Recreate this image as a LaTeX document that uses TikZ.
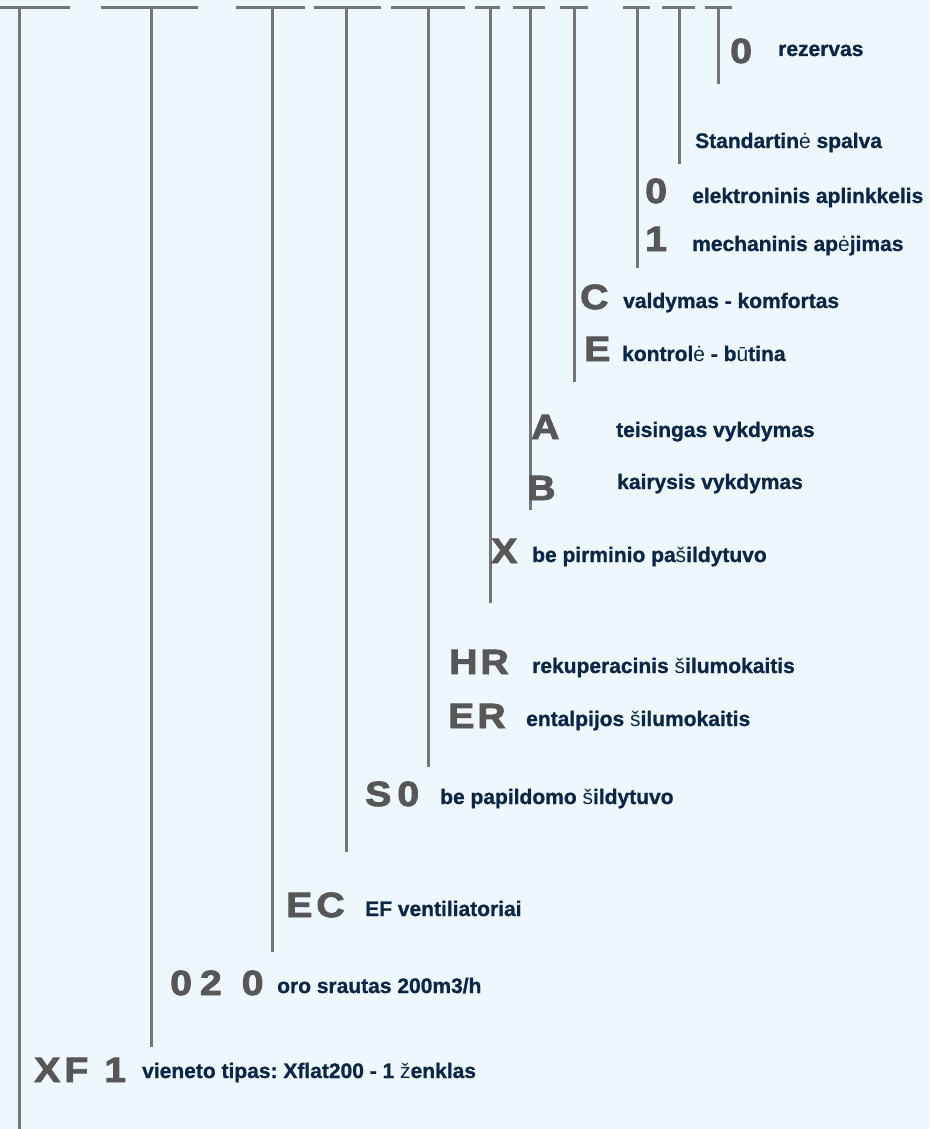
\documentclass[tikz,border=0pt]{standalone}
\usepackage{fontspec}
\setmainfont{Liberation Sans}
\newfontfamily\codefamily{Liberation Sans}[BoldFeatures={FakeBold=2.5,FakeStretch=1.12}]
\newfontfamily\descfamily{Liberation Sans}[BoldFeatures={FakeBold=1}]
\definecolor{bgblue}{HTML}{EEF7FC}
\definecolor{stemgray}{HTML}{767676}
\definecolor{codegray}{HTML}{575757}
\definecolor{descblue}{HTML}{0D2646}
\newcommand{\codefont}{\codefamily\fontsize{35}{40}\selectfont\bfseries}
\newcommand{\descfont}{\descfamily\fontsize{21}{24}\selectfont\bfseries\frenchspacing}
\tikzstyle{codestyle}=[anchor=base west, inner sep=0pt, text=codegray, font=\codefont]
\tikzstyle{descstyle}=[anchor=base west, inner sep=0pt, text=descblue, font=\descfont]
\tikzstyle{stemline}=[draw, line width=3pt, color=stemgray]
\newcommand{\code}[2]{node (c#1) [codestyle] {#2}}
\newcommand{\desc}[2]{node (d#1) [descstyle] {#2}}
\newcommand{\lt}[1]{{\mdseries #1}}
% stem: name, x, bar left, bar right, bottom
\newcommand{\stem}[5]{%
  \coordinate (l#1) at (#3,8);
  \coordinate (r#1) at (#4,8);
  \coordinate (s#1) at (#2,8);
  \coordinate (e#1) at (#2,#5);
  \path [stemline] (l#1) -- (r#1) (s#1) -- (e#1);}

\begin{document}
\begin{tikzpicture}[x=1pt, y=-1pt]
\fill [bgblue] (0,0) rectangle (929,1129);
\useasboundingbox (0,0) rectangle (929,1129);
% Draw stems
\stem{1}{19}{0}{70}{1129}
\stem{2}{151}{101}{198}{1047}
\stem{3}{272}{236}{305}{952}
\stem{4}{346}{314}{381}{852}
\stem{5}{428}{391}{465}{767}
\stem{6}{490}{475}{500}{603}
\stem{7}{530}{513}{545}{510}
\stem{8}{574}{560}{588}{382}
\stem{9}{637}{623}{650}{268}
\stem{10}{679}{662}{695}{164}
\stem{11}{718}{705}{732}{84}

% Draw codes
\path (730,63)   \code{1}{0};
\path (645,203)  \code{2}{0};
\path (645,251)  \code{3}{1};
\path (580,309)  \code{4}{C};
\path (584,361)  \code{5}{E};
\path (531,439)  \code{6}{A};
\path (527,500)  \code{7}{B};
\path (491,563)  \code{8}{X};
\path (449,674)  \code{9}{H\kern3pt R};
\path (448,728)  \code{10}{E\kern3pt R};
\path (365,806)  \code{11}{S\kern6pt 0};
\path (286,917)  \code{12}{E\kern4pt C};
\path (170,995)  \code{13}{0\kern8pt 2\kern20pt 0};
\path (34,1082)  \code{14}{X\kern4pt F\kern16pt 1};

% Draw descriptions
\path (778,56)   \desc{1}{rezervas};
\path (695,148)  \desc{2}{Standartin\lt{ė} spalva};
\path (692,203)  \desc{3}{elektroninis aplinkkelis};
\path (692,251)  \desc{4}{mechaninis ap\lt{ė}jimas};
\path (623,308)  \desc{5}{valdymas - komfortas};
\path (622,361)  \desc{6}{kontrol\lt{ė} - b\lt{ū}tina};
\path (616,437)  \desc{7}{teisingas vykdymas};
\path (617,489)  \desc{8}{kairysis vykdymas};
\path (532,562)  \desc{9}{be pirminio pa\lt{š}ildytuvo};
\path (532,673)  \desc{10}{rekuperacinis \lt{š}ilumokaitis};
\path (526,726)  \desc{11}{entalpijos \lt{š}ilumokaitis};
\path (440,804)  \desc{12}{be papildomo \lt{š}ildytuvo};
\path (365,916)  \desc{13}{EF ventiliatoriai};
\path (277,993)  \desc{14}{oro srautas 200m3/h};
\path (142,1078) \desc{15}{vieneto tipas: Xflat200 - 1 \lt{ž}enklas};
\end{tikzpicture}
\end{document}
